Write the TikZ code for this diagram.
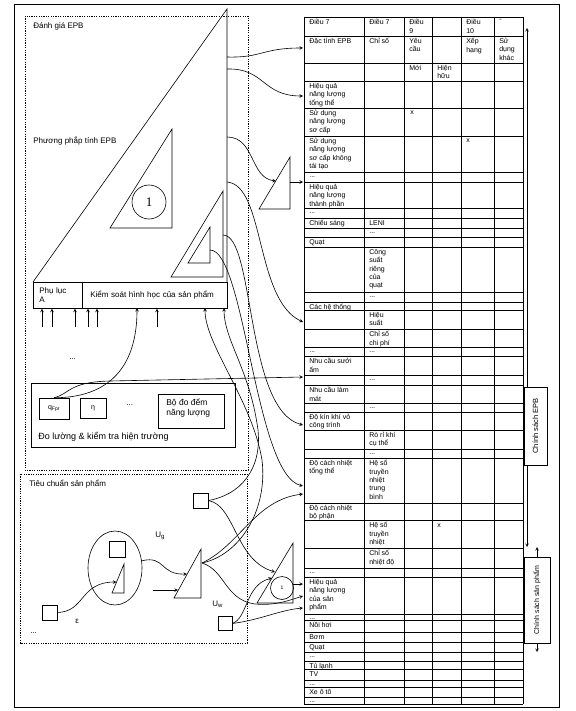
\documentclass[tikz,border=0pt]{standalone}
\usepackage{fontspec}
\setmainfont{Liberation Sans}
\newfontfamily\seriffont{Liberation Serif}
\usetikzlibrary{shapes.geometric}
\newcommand{\bacham}{...}

\begin{document}
\begin{tikzpicture}[x=1pt,y=-1pt,>=stealth,line width=0.6pt,
  lbl/.style={font=\fontsize{8}{9.5}\selectfont,inner sep=0pt,align=left,anchor=north west},
  cell/.style={font=\fontsize{7}{8.4}\selectfont,inner sep=0pt,align=left,anchor=north west},
  sq/.style={draw,inner sep=0pt,minimum size=#1},
  dotbox/.style={dash pattern=on 1.2pt off 1.2pt,line width=0.5pt}]
\useasboundingbox (0,0) rectangle (575,711);
% khung
\draw (14,4) rectangle (559,707);
\draw[dotbox] (25,16) rectangle (248,470);
\draw[dotbox] (20,474) rectangle (247,643);
\node[lbl] (danhgia) at (33,22) {Đánh giá EPB};
\node[lbl] (phuongphap) at (33,136) {Phương phắp tính EPB};
\node[lbl] (tieuchuan) at (29,480) {Tiêu chuẩn sản phẩm};

% tam giac lon + thanh duoi
\draw (33,282) -- (227,9) -- (227,282);
\node[draw,lbl,inner xsep=6pt,text width=37pt,minimum height=26pt] (phuluc) at (33,282) {Phụ lục\\A};
\node[draw,lbl,inner xsep=8pt,text width=129pt,minimum height=26pt] (kiemsoat) at (82,282) {Kiểm soát hình học của sản phẩm};
\draw (110,228) -- (172,129) -- (172,228) -- cycle;
\node[draw,circle,minimum size=34pt,inner sep=0pt,font=\seriffont\fontsize{13}{13}\selectfont] (c1) at (149,202) {1};
\draw (171,277) -- (223,191) -- (223,277) -- cycle;
\draw (188,263) -- (210,227) -- (210,263) -- cycle;
\draw (259,209) -- (290,157) -- (290,209) -- cycle;

% bang
\foreach \y in {17,36,63,81,108,136,172,182,208,218,228,237,247,292,302,310,329,347,356,375,385,403,412,430,449,458,503,520,548,568,577,614,620,632,642,652,661,669,680,687,697,704}
  \draw[line width=0.5pt] (304,\y) -- (523,\y);
\foreach \x in {304,364,404,432,461,494,523}
  \draw[line width=0.5pt] (\x,17) -- (\x,704);
\foreach \cx/\cy/\ct [count=\i] in {
  304/17/Điều 7, 364/17/Điều 7, 404/17/Điều\\9, 461/17/Điều\\10, 494/17/-,
  304/36/Đặc tính EPB, 364/36/Chỉ số, 404/36/Yêu\\cầu, 461/36/Xếp\\hạng, 494/36/Sử\\dụng\\khác,
  404/63/Mới, 432/63/Hiện\\hữu,
  304/81/Hiệu quả\\năng lượng\\tổng thể,
  304/108/Sử dụng\\năng lượng\\sơ cấp,
  304/136/Sử dụng\\năng lượng\\sơ cấp không\\tái tạo,
  304/182/Hiệu quả\\năng lượng\\thành phần,
  304/218/Chiếu sáng, 364/218/LENI, 304/237/Quạt,
  364/247/Công\\suất\\riêng\\của\\quạt,
  304/302/Các hệ thống, 364/310/Hiệu\\suất, 364/329/Chỉ số\\chi phí,
  304/356/Nhu cầu sưởi\\ấm,
  304/385/Nhu cầu làm\\mát, 304/412/Độ kín khí vỏ\\công trình,
  364/430/Rò rỉ khí\\cụ thể,
  304/458/Độ cách nhiệt\\tổng thể, 364/458/Hệ số\\truyền\\nhiệt\\trung\\bình,
  304/503/Độ cách nhiệt\\bộ phận, 364/520/Hệ số\\truyền\\nhiệt,
  364/548/Chỉ số\\nhiệt độ,
  304/577/Hiệu quả\\năng lượng\\của sản\\phẩm,
  304/620/Nồi hơi, 304/632/Bơm, 304/642/Quạt,
  304/661/Tủ lạnh, 304/669/TV, 304/687/Xe ô tô}
  \node[cell] (o\i) at (\cx+5,\cy+2) {\ct};
% cac o "..."
\foreach \cx/\cy [count=\i] in {304/172, 304/208, 364/228, 364/292, 304/347, 364/347, 364/375,
  364/403, 364/449, 304/568, 304/614, 304/652, 304/680, 304/697}
  \node[cell,anchor=west] (d\i) at (\cx+5,\cy+5) {\bacham};
\node[cell] (x1) at (410,111) {x};
\node[cell] (x2) at (466,139) {x};
\node[cell] (x3) at (437,523) {x};
\foreach \y in {48,96,182,322,377,425,486,494,584,596,608}
  \coordinate (tab\y) at (303,\y);

% chinh sach
\coordinate (epbtop) at (527,28);
\coordinate (epbbot) at (527,547);
\draw[<->] (epbtop) -- (epbbot);
\node[draw,fill=white,rotate=90,minimum width=78pt,minimum height=23pt,inner sep=0pt,font=\fontsize{7.5}{8}\selectfont] (csepb) at (535.5,426) {Chính sách EPB};
\node[draw,fill=white,rotate=90,minimum width=86pt,minimum height=26pt,inner sep=0pt,font=\fontsize{7}{8}\selectfont] (cssp) at (537,600) {Chính sách sản phẩm};
\coordinate (sptop) at (537,547);
\coordinate (spbot) at (537,652);
\draw[->] (cssp.east) -- (sptop);
\draw[->] (cssp.west) -- (spbot);

% mui ten tu tam giac lon
\coordinate (big1) at (227,57);
\coordinate (big2) at (227,69);
\coordinate (big3) at (227,137);
\coordinate (big4) at (227,182);
\coordinate (tri2o) at (223,235);
\coordinate (tri2i) at (210,250);
\coordinate (tnho) at (276,181);
\coordinate (tnhoR) at (290,182);
\draw[->] (big1) .. controls (262,58) and (262,48) .. (tab48);
\draw[->] (big2) .. controls (265,68) and (262,96) .. (tab96);
\draw[->] (big3) .. controls (255,137) and (250,178) .. (tnho);
\draw[->] (tnhoR) -- (tab182);
\draw[->] (big4) .. controls (265,185) and (255,300) .. (tab322);
\draw[->] (tri2o) .. controls (255,235) and (245,410) .. (tab425);
\draw[->] (tri2i) .. controls (245,250) and (255,475) .. (tab486);

% do luong
\foreach \x in {42,52,75,88,97,157} {
  \coordinate (vao\x) at (\x,327);
  \draw[->] (vao\x) -- (vao\x |- kiemsoat.south);
}
\node[lbl] (dots1) at (69,358) {\bacham};
\node[draw,minimum width=204pt,minimum height=64pt,inner sep=0pt,anchor=north west] (doluong) at (31,383) {};
\node[lbl,font=\fontsize{9}{10}\selectfont] (doluongtxt) at (38,432) {Đo lường \& kiểm tra hiện trường};
\node[draw,minimum width=30pt,minimum height=21pt,inner sep=0pt,font=\fontsize{7}{7}\selectfont] (qfpr) at (54,408.5) {q\textsubscript{Fpr}};
\node[draw,minimum width=26pt,minimum height=20pt,inner sep=0pt,font=\fontsize{7}{7}\selectfont] (eta) at (93,408) {η};
\node[lbl] (dots2) at (126,404) {\bacham};
\node[draw,minimum width=66pt,minimum height=34pt,inner sep=0pt,anchor=north west] (bodo) at (158,394) {};
\node[lbl,font=\fontsize{8.5}{10}\selectfont] (bodotxt) at (166,399) {Bộ đo đếm\\năng lượng};
\coordinate (ksq) at (137,308);
\coordinate (qngang) at (110,381);
\draw[->] (qfpr.north) .. controls (95,398) and (137,380) .. (ksq);
\draw[->] (qfpr.north) .. controls (70,394) and (68,382) .. (qngang) -- (tab377);

% tieu chuan san pham
\node[draw,ellipse,minimum width=54pt,minimum height=74pt,inner sep=0pt] (elip) at (115,568) {};
\node[sq=16pt] (sqelip) at (117,549) {};
\draw (112,593) -- (124,564) -- (124,593) -- cycle;
\node[sq=15pt] (sqeps) at (49.5,612.5) {};
\node[lbl] (eps) at (75,619) {ε};
\coordinate (tnhohyp) at (116.5,582);
\draw[->] (sqeps.east) .. controls (85,612) and (80,582) .. (tnhohyp);
\draw (174,598) -- (201,549) -- (201,598) -- cycle;
\coordinate (t4hyp) at (187,574);
\coordinate (t4r) at (202,563);
\draw[->] (elip.15) .. controls (165,555) and (160,575) .. (t4hyp);
\node[lbl] (ug) at (155,532) {U\textsubscript{g}};
\coordinate (ngoai) at (153,590);
\coordinate (t4hyp2) at (178,590);
\draw[->] (ngoai) -- (t4hyp2);
\node[lbl] (uw) at (212,601) {U\textsubscript{w}};
\node[lbl] (dots3) at (30,632) {\bacham};
\node[sq=15pt] (s1) at (200.5,500.5) {};
\node[sq=14pt] (suw) at (225,623.5) {};
\draw (257,603) -- (293,543) -- (293,603) -- cycle;
\node[draw,circle,minimum size=23pt,inner sep=0pt,font=\fontsize{5}{5}\selectfont] (c3) at (282,588) {1};
\coordinate (t3hyp1) at (275,572);
\coordinate (t3hyp2) at (272,578);
\coordinate (t3r) at (293,584);
\coordinate (ks205) at (205,308);
\coordinate (ks224) at (224,308);
\draw[->] (t4r) .. controls (240,555) and (268,510) .. (262,460) .. controls (252,400) and (205,345) .. (ks205);
\draw[->] (s1.east) .. controls (240,495) and (262,470) .. (258,430) .. controls (250,370) and (224,340) .. (ks224);
\draw[->] (s1.east) .. controls (235,505) and (235,560) .. (t3hyp1);
\draw[->] (t4r) .. controls (240,545) and (255,500) .. (tab494);
\draw[->] (t4r) .. controls (225,570) and (225,600) .. (255,604) .. controls (275,606) and (290,600) .. (tab596);
\draw[->] (suw.east) .. controls (260,620) and (280,610) .. (tab608);
\draw[->] (suw.east) .. controls (248,618) and (245,585) .. (t3hyp2);
\draw[->] (t3r) -- (tab584);
\end{tikzpicture}
\end{document}
